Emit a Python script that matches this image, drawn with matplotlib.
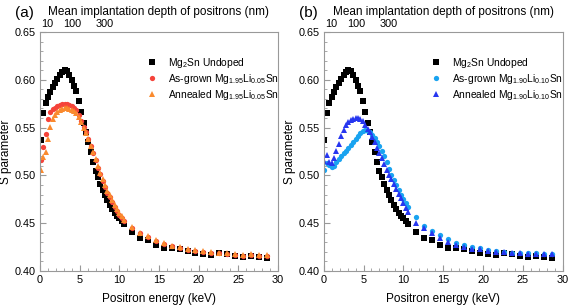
import numpy as np
import matplotlib
matplotlib.use("Agg")
import matplotlib.pyplot as plt

plt.rcParams['font.family'] = ['Liberation Sans', 'DejaVu Sans']
plt.rcParams['mathtext.fontset'] = 'custom'
plt.rcParams['mathtext.rm'] = 'Liberation Sans'
plt.rcParams['mathtext.it'] = 'Liberation Sans:italic'

# positron energies (keV)
energy = [0.1, 0.4, 0.7, 1.0, 1.3, 1.6, 1.9, 2.2, 2.5, 2.8, 3.1, 3.4, 3.7, 4.0, 4.3, 4.6,
          4.9, 5.2, 5.5, 5.8, 6.1, 6.4, 6.7, 7.0, 7.3, 7.6, 7.9, 8.2, 8.5, 8.8, 9.1, 9.4,
          9.7, 10.0, 10.3, 10.6,
          11.6, 12.6, 13.6, 14.6, 15.6, 16.6, 17.6, 18.6, 19.6, 20.6, 21.6, 22.6, 23.6,
          24.6, 25.6, 26.6, 27.6, 28.6]

s_undoped = [0.537, 0.565, 0.576, 0.582, 0.587, 0.592, 0.597, 0.601, 0.605, 0.608, 0.610, 0.609,
             0.605, 0.600, 0.593, 0.588, 0.578, 0.566, 0.555, 0.545, 0.535, 0.524, 0.514, 0.505,
             0.498, 0.491, 0.485, 0.479, 0.474, 0.469, 0.465, 0.461, 0.458, 0.455, 0.452, 0.449,
             0.441, 0.435, 0.432, 0.427, 0.424, 0.4245, 0.423, 0.421, 0.419, 0.418, 0.4165, 0.4185,
             0.418, 0.4155, 0.415, 0.4158, 0.415, 0.414]

s_grown05 = [0.516, 0.530, 0.543, 0.559, 0.566, 0.569, 0.571, 0.573, 0.574, 0.575, 0.575, 0.5745,
             0.574, 0.573, 0.571, 0.568, 0.563, 0.557, 0.551, 0.545, 0.538, 0.531, 0.523, 0.516,
             0.508, 0.501, 0.494, 0.488, 0.482, 0.477, 0.472, 0.467, 0.463, 0.459, 0.455, 0.452,
             0.445, 0.440, 0.436, 0.431, 0.428, 0.426, 0.424, 0.422, 0.421, 0.420, 0.419, 0.419,
             0.418, 0.417, 0.416, 0.417, 0.416, 0.416]

s_ann05 = [0.506, 0.519, 0.524, 0.538, 0.551, 0.559, 0.563, 0.566, 0.568, 0.569, 0.570, 0.570,
           0.5695, 0.568, 0.567, 0.565, 0.561, 0.556, 0.550, 0.544, 0.538, 0.531, 0.524, 0.517,
           0.510, 0.503, 0.496, 0.490, 0.484, 0.479, 0.474, 0.469, 0.465, 0.461, 0.457, 0.453,
           0.446, 0.440, 0.437, 0.432, 0.429, 0.426, 0.425, 0.423, 0.422, 0.421, 0.420, 0.419,
           0.419, 0.418, 0.417, 0.418, 0.417, 0.417]

s_grown10 = [0.506, 0.513, 0.511, 0.509, 0.510, 0.514, 0.517, 0.520, 0.523, 0.526, 0.529, 0.532,
             0.535, 0.538, 0.541, 0.544, 0.546, 0.547, 0.546, 0.545, 0.542, 0.539, 0.535, 0.531,
             0.526, 0.520, 0.514, 0.507, 0.500, 0.495, 0.490, 0.485, 0.480, 0.475, 0.471, 0.467,
             0.456, 0.447, 0.442, 0.438, 0.433, 0.429, 0.427, 0.4255, 0.4245, 0.422, 0.421, 0.420,
             0.419, 0.419, 0.419, 0.4185, 0.418, 0.418]

s_ann10 = [0.515, 0.521, 0.514, 0.513, 0.518, 0.525, 0.533, 0.541, 0.548, 0.553, 0.556, 0.558,
           0.559, 0.560, 0.560, 0.559, 0.557, 0.553, 0.549, 0.545, 0.540, 0.535, 0.529, 0.523,
           0.518, 0.512, 0.506, 0.500, 0.496, 0.491, 0.486, 0.481, 0.476, 0.471, 0.466, 0.462,
           0.4505, 0.4445, 0.4395, 0.435, 0.4305, 0.427, 0.425, 0.4235, 0.423, 0.421, 0.420, 0.420,
           0.419, 0.4185, 0.418, 0.418, 0.4175, 0.4175]

depth_ticks = [10, 100, 300]
rho = 3.8  # g/cm3, for mean implantation depth z = 40/rho * E^1.6


def e_to_z(e):
    return 40.0 / rho * np.clip(e, 0, None) ** 1.6


def z_to_e(z):
    return (np.clip(z, 0, None) * rho / 40.0) ** (1 / 1.6)


fig = plt.figure(figsize=(5.72, 3.07), dpi=100)
ax_a = fig.add_axes([0.0699, 0.1173, 0.4161, 0.7785])
ax_b = fig.add_axes([0.5659, 0.1173, 0.4178, 0.7785])

panels = [
    (ax_a, '(a)', [
        (s_undoped, 's', 'black', r'Mg$_2$Sn Undoped'),
        (s_grown05, 'o', '#f5433a', r'As-grown Mg$_{1.95}$Li$_{0.05}$Sn'),
        (s_ann05, '^', '#fa8a2e', r'Annealed Mg$_{1.95}$Li$_{0.05}$Sn'),
    ]),
    (ax_b, '(b)', [
        (s_undoped, 's', 'black', r'Mg$_2$Sn Undoped'),
        (s_grown10, 'o', '#19a3f0', r'As-grown Mg$_{1.90}$Li$_{0.10}$Sn'),
        (s_ann10, '^', '#2636f0', r'Annealed Mg$_{1.90}$Li$_{0.10}$Sn'),
    ]),
]

for ax, tag, series in panels:
    for vals, mk, col, lab in series:
        ax.plot(energy, vals, linestyle='none', marker=mk, color=col, markersize=3.8,
                markeredgewidth=0, label=lab)
    ax.set_xlim(0, 30)
    ax.set_ylim(0.40, 0.65)
    ax.set_xticks([0, 5, 10, 15, 20, 25, 30])
    ax.set_xticks(np.arange(0, 31, 1), minor=True)
    ax.set_yticks([0.40, 0.45, 0.50, 0.55, 0.60, 0.65])
    ax.set_yticks(np.arange(0.40, 0.651, 0.01), minor=True)
    ax.set_yticklabels(['0.40', '0.45', '0.50', '0.55', '0.60', '0.65'])
    ax.tick_params(which='both', direction='in', color='#999999', labelsize=7.8,
                   top=False, right=False, pad=3)
    ax.tick_params(which='major', length=4, width=0.8)
    ax.tick_params(which='minor', length=2, width=0.6)
    for sp in ax.spines.values():
        sp.set_color('#999999')
        sp.set_linewidth(0.8)
    ax.set_xlabel('Positron energy (keV)', fontsize=8.5, labelpad=6)
    ax.set_ylabel('S parameter', fontsize=8.5, labelpad=1.5)

    top = ax.secondary_xaxis('top', functions=(e_to_z, z_to_e))
    top.set_xticks(depth_ticks)
    top.set_xticklabels([str(d) for d in depth_ticks])
    top.tick_params(length=0, labelsize=7.8, pad=2)
    top.spines['top'].set_visible(False)
    top.set_xlabel('Mean implantation depth of positrons (nm)', fontsize=8.5, labelpad=3)

    ax.text(-0.105, 1.08, tag, transform=ax.transAxes, fontsize=11, ha='left', va='center')

    ax.legend(loc='upper left', bbox_to_anchor=(0.45, 0.9), frameon=False, fontsize=7.4,
              handletextpad=1.0, labelspacing=0.2, borderaxespad=0, borderpad=0,
              handlelength=1.0, markerscale=1.0)

fig.savefig('out.png', dpi=100)
